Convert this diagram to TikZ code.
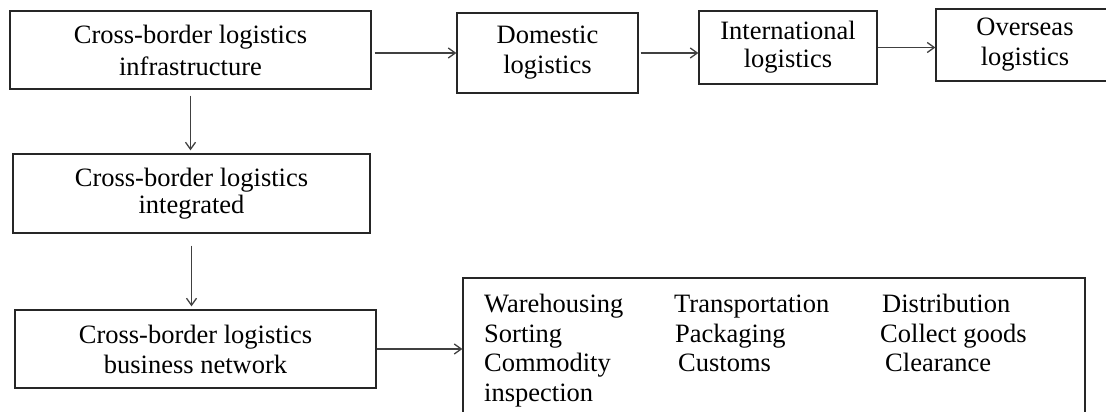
\documentclass[tikz,border=0pt]{standalone}
\usepackage{fontspec}
\setmainfont{Liberation Serif}
\usetikzlibrary{arrows.meta,calc}
\begin{document}
\begin{tikzpicture}[x=1pt,y=-1pt,
  box/.style={draw=black!85, line width=1.3pt, rectangle, inner sep=0pt, align=center},
  arr/.style={draw=black!75, line width=1.3pt, -{Straight Barb[length=7pt,width=10pt,line width=1.3pt]}},
  item/.style={anchor=base west, inner sep=0pt, font=\fontsize{26.5}{30}\selectfont}]
\useasboundingbox (0,0) rectangle (1106,412);
% top row
\node[box, minimum width=361pt, minimum height=78pt, font=\fontsize{26.5}{32}\selectfont] (b1) at (190.5,50) {Cross-border logistics\\infrastructure};
\node[box, minimum width=181pt, minimum height=80pt, font=\fontsize{26.5}{30}\selectfont] (dom) at (547.5,53) {Domestic\\logistics};
\node[box, minimum width=178pt, minimum height=73pt, font=\fontsize{26.5}{28}\selectfont] (int) at (788,47.5) {International\\logistics};
\node[box, minimum width=178pt, minimum height=72pt, font=\fontsize{26.5}{30}\selectfont] (ov) at (1025,45) {Overseas\\logistics};
% left column
\node[box, minimum width=357pt, minimum height=79pt, font=\fontsize{26.5}{27}\selectfont] (b2) at (191.5,193.5) {Cross-border logistics\\integrated};
\node[box, minimum width=361pt, minimum height=78pt, font=\fontsize{26.5}{30}\selectfont] (b3) at (195.5,349) {Cross-border logistics\\business network};
% big box
\node[box, minimum width=622pt, minimum height=142pt] (big) at (774,349) {};
\node[item] (i1) at (484,312) {Warehousing};
\node[item] (i2) at (674,312) {Transportation};
\node[item] (i3) at (882,312) {Distribution};
\node[item] (i4) at (484,342) {Sorting};
\node[item] (i5) at (675,342) {Packaging};
\node[item] (i6) at (880,342) {Collect goods};
\node[item] (i7) at (484,371) {Commodity};
\node[item] (i8) at (678,371) {Customs};
\node[item] (i9) at (885,371) {Clearance};
\node[item] (i10) at (484,401) {inspection};
% connectors
\draw[arr, shorten <=3pt] (b1.east |- dom.west) -- (dom.west);
\draw[arr, shorten <=2pt] (dom.west -| dom.east) -- (dom.west -| int.west);
\draw[arr] (int.east) -- (int.east -| ov.west);
\draw[arr, shorten <=6pt, shorten >=3pt] (b1.south) -- (b1.south |- b2.north);
\draw[arr, shorten <=12pt, shorten >=3pt] (b2.south) -- (b2.south |- b3.north);
\draw[arr] (b3.east) -- (b3.east -| big.west);
\end{tikzpicture}
\end{document}
